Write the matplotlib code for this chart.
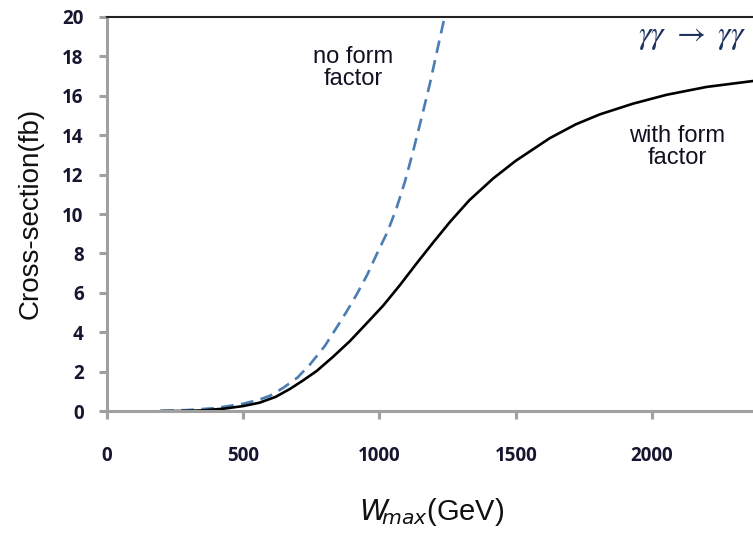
import matplotlib
matplotlib.use("Agg")
import matplotlib.pyplot as plt

# with form factor (solid black)
w_ff = [200, 270, 350, 430, 500, 560, 620, 672, 720, 770, 830, 892, 950, 1014, 1076,
        1137, 1200, 1259, 1330, 1417, 1500, 1625, 1720, 1809, 1930, 2053, 2200, 2370]
s_ff = [0.0, 0.0, 0.03, 0.12, 0.25, 0.42, 0.72, 1.12, 1.55, 2.03, 2.75, 3.55, 4.4, 5.35, 6.4,
        7.5, 8.6, 9.6, 10.7, 11.8, 12.7, 13.85, 14.55, 15.06, 15.6, 16.05, 16.45, 16.75]

# no form factor (dashed blue)
w_nf = [200, 300, 400, 501, 560, 600, 648, 700, 746, 800, 843, 880, 917, 955, 990,
        1030, 1063, 1095, 1124, 1155, 1185, 1212, 1240]
s_nf = [0.0, 0.05, 0.15, 0.37, 0.58, 0.78, 1.18, 1.7, 2.37, 3.3, 4.23, 5.05, 5.92, 6.9, 7.95,
        9.1, 10.3, 11.7, 13.2, 14.9, 16.6, 18.3, 20.05]

x_ticks = [0, 500, 1000, 1500, 2000]
y_ticks = [0, 2, 4, 6, 8, 10, 12, 14, 16, 18, 20]

fig = plt.figure(figsize=(7.53, 5.34), dpi=100)
ax = fig.add_axes([0.1416, 0.2303, 0.8584, 0.7379])

ax.plot(w_nf, s_nf, color="#4a7db3", lw=1.9, dashes=(4.8, 2.8))
ax.plot(w_ff, s_ff, color="black", lw=1.9)

ax.set_xlim(0, 2370)
ax.set_ylim(0, 20)
ax.set_xticks(x_ticks)
ax.set_yticks(y_ticks)

tick_font = dict(family="Open Sans", weight="bold", size=13.5)
ax.set_xticklabels([str(t) for t in x_ticks], **tick_font, color="#161630")
ax.set_yticklabels([str(t) for t in y_ticks], **tick_font, color="#161630")

for s in ["left", "bottom"]:
    ax.spines[s].set_color("#a0a0a0")
    ax.spines[s].set_linewidth(2.2)
ax.spines["right"].set_visible(False)
ax.spines["top"].set_color("#222222")
ax.spines["top"].set_linewidth(1.5)

ax.tick_params(axis="y", direction="out", length=5.5, width=2.2, color="#a0a0a0", pad=11)
ax.tick_params(axis="x", direction="out", length=6, width=2.2, color="#a0a0a0", pad=19)

fig.text(31 / 753, 1 - 213 / 534, "Cross-section(fb)", rotation=90, ha="center",
         va="center", fontsize=20, family="Liberation Sans", color="#111111")

fig.text(432 / 753, 1 - 512 / 534, r"$\mathit{W}_{\!\!\mathit{max}}$(GeV)",
         ha="center", va="center", fontsize=21, family="Liberation Sans", color="#111111")

ax.text(903, 17.4, "no form\nfactor", ha="center", va="center", fontsize=17,
        family="Liberation Sans", color="#111122", linespacing=1.0)
ax.text(2091, 13.4, "with form\nfactor", ha="center", va="center", fontsize=17,
        family="Liberation Sans", color="#111122", linespacing=1.05)

gt = ax.text(2148, 19.0, r"$\gamma\gamma\ \rightarrow\ \gamma\gamma$", ha="center",
             va="center", fontsize=19, math_fontfamily="stix", color="#1f3560")
fig.canvas.draw()
wpx = gt.get_window_extent(fig.canvas.get_renderer()).width
gt.set_fontsize(19 * 109.0 / wpx)

fig.savefig("out.png", dpi=100)
